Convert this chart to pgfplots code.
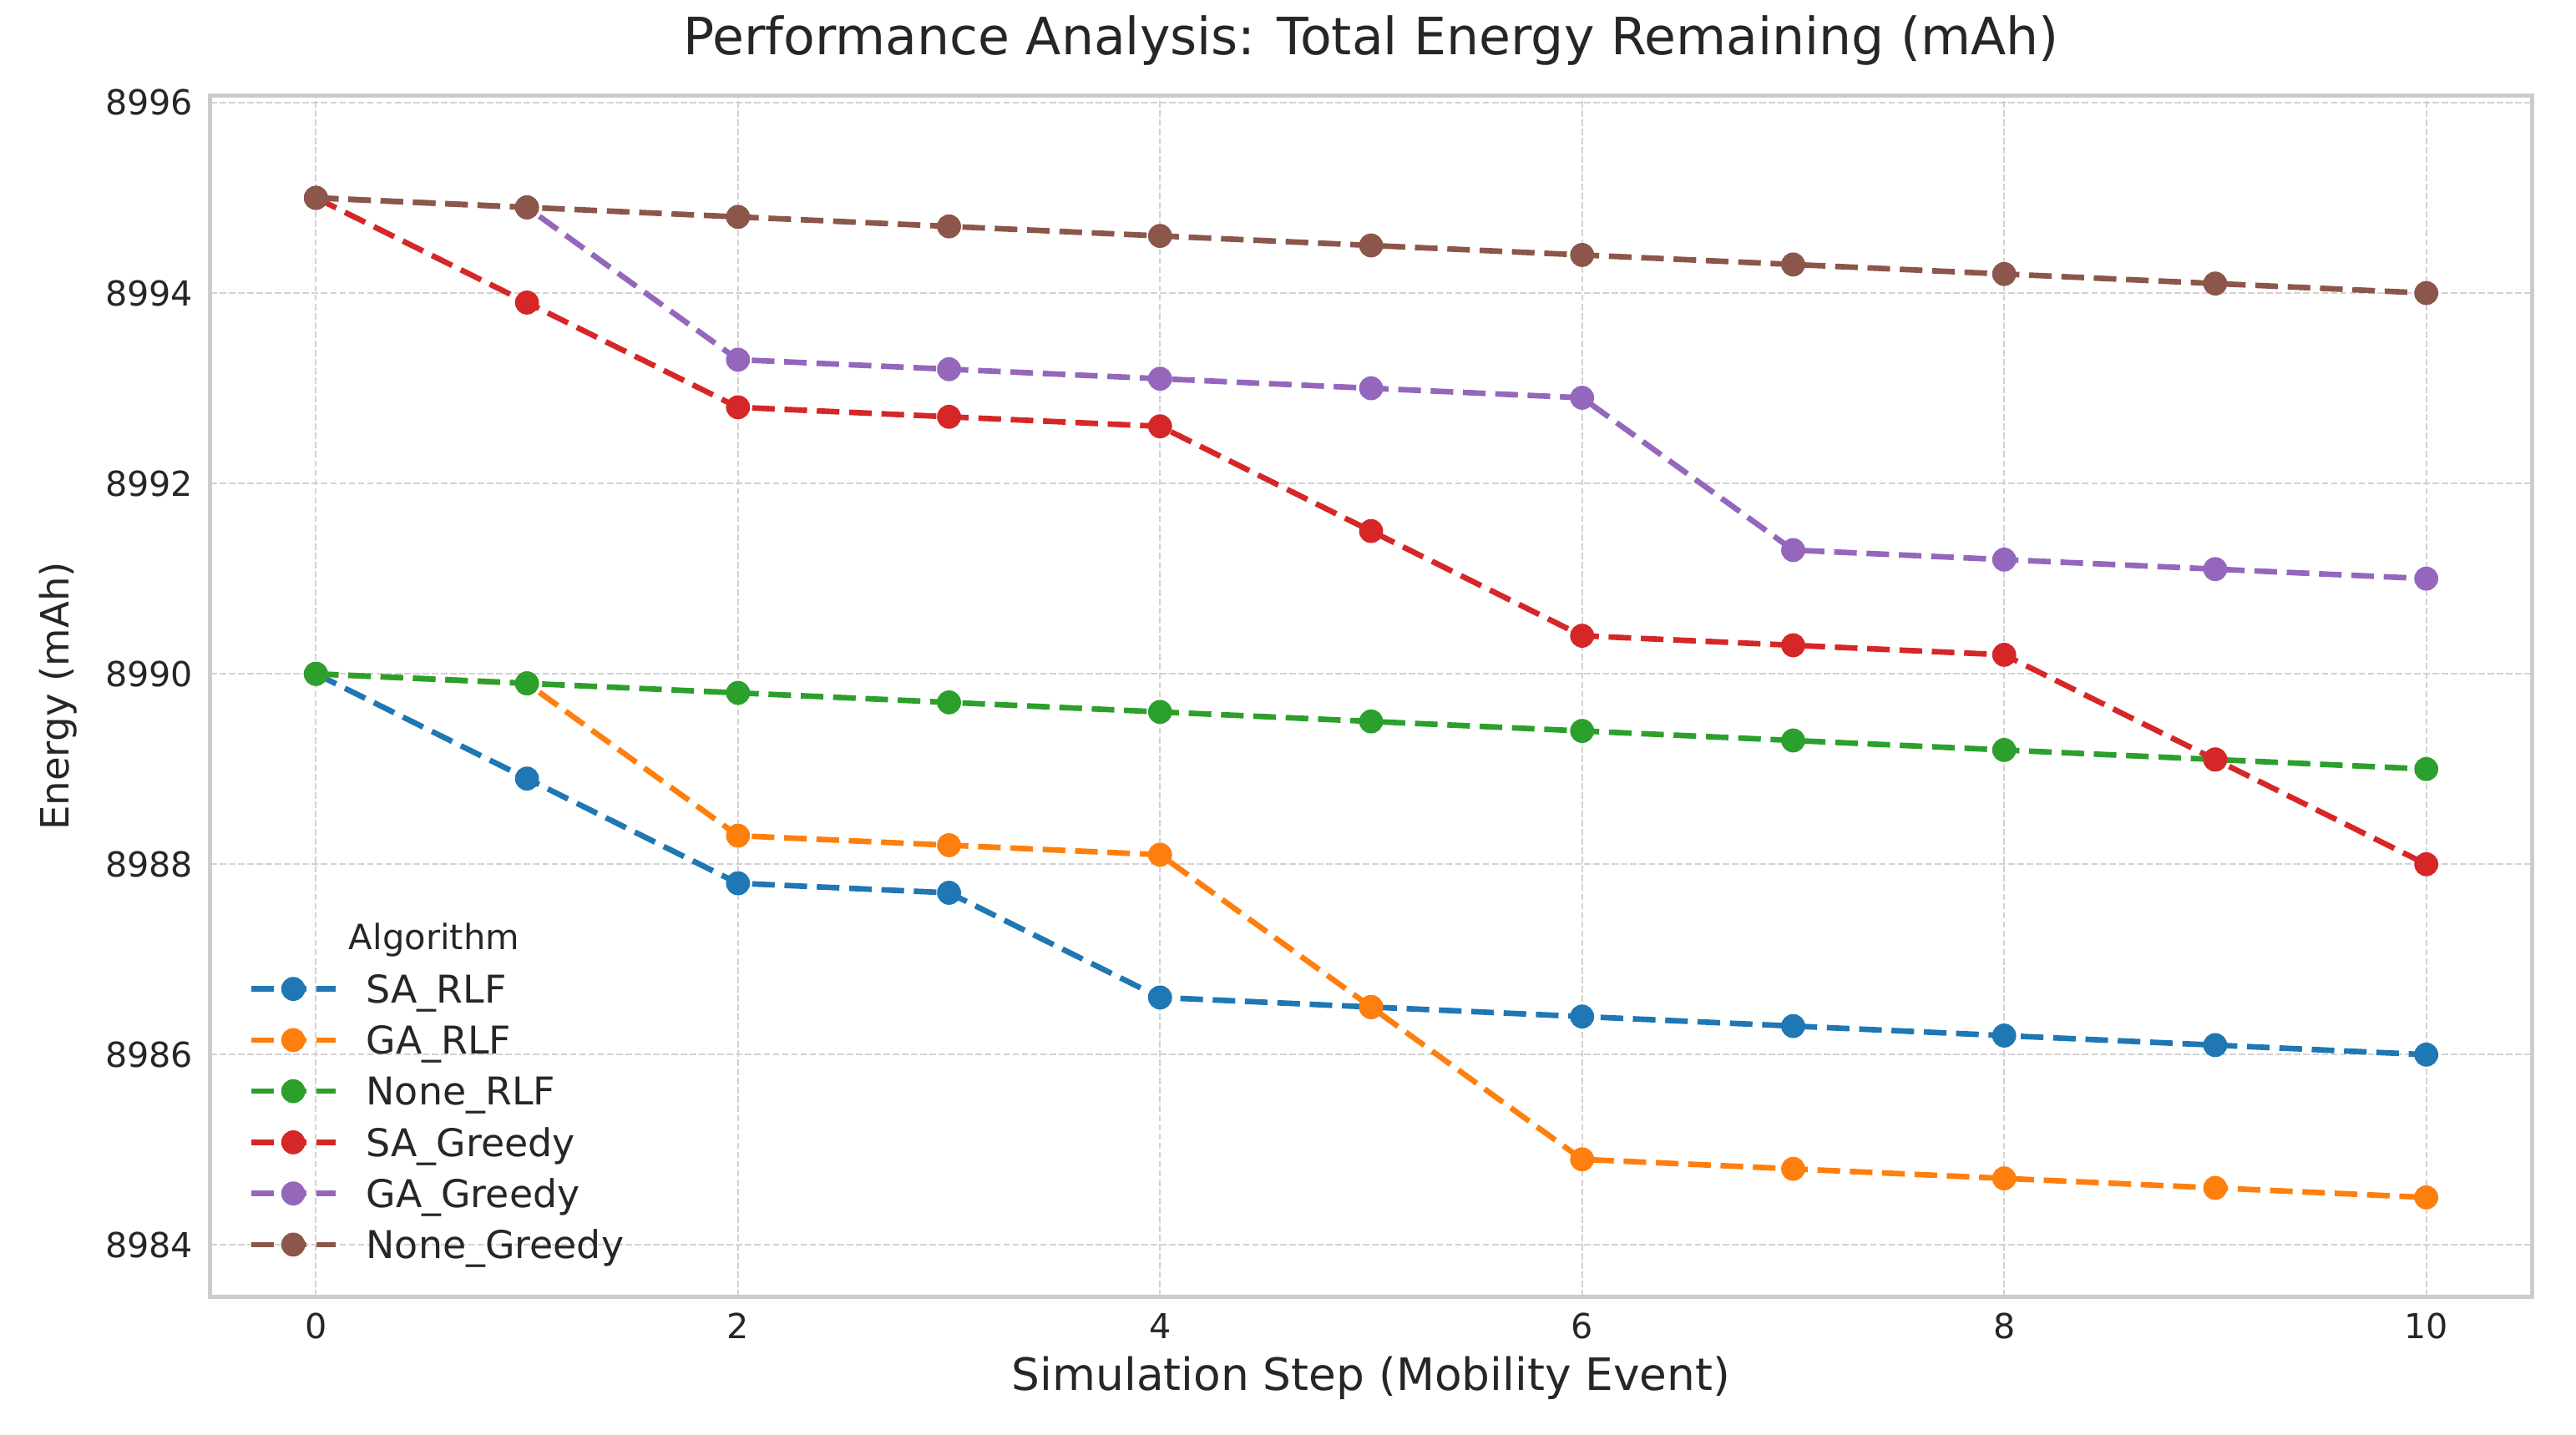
\documentclass[border=0pt]{standalone}
\usepackage{fontspec}
\setmainfont{DejaVu Sans}
\usepackage{pgfplots}
\pgfplotsset{compat=1.18}

\definecolor{c0}{HTML}{1F77B4}
\definecolor{c1}{HTML}{FF7F0E}
\definecolor{c2}{HTML}{2CA02C}
\definecolor{c3}{HTML}{D62728}
\definecolor{c4}{HTML}{9467BD}
\definecolor{c5}{HTML}{8C564B}
\definecolor{framegray}{HTML}{CCCCCC}
\definecolor{gridgray}{HTML}{D2D2D2}
\definecolor{textgray}{HTML}{262626}

\pgfplotsset{
  ser/.style={color=#1, line width=1.6pt, dash pattern=on 6.5pt off 2.8pt,
    mark=*, mark size=3.3pt, mark options={solid, fill=#1, draw=#1, line width=0.3pt}},
}

\begin{document}
\begin{tikzpicture}
\path[use as bounding box] (-60.48pt,-39.6pt) rectangle (679.92pt,372.72pt);
\begin{axis}[
  at={(0,0)}, anchor=south west,
  scale only axis, width=667.2pt, height=345.12pt,
  xmin=-0.5, xmax=10.5, ymin=8983.46, ymax=8996.07,
  xtick={0,2,4,6,8,10},
  ytick={8984,8986,8988,8990,8992,8994,8996},
  yticklabels={8984,8986,8988,8990,8992,8994,8996},
  scaled y ticks=false,
  major tick length=0pt,
  axis line style={draw=framegray, line width=1.2pt},
  grid=major,
  major grid style={draw=gridgray, line width=0.5pt, dash pattern=on 1.85pt off 0.8pt},
  ticklabel style={font=\fontsize{9.9}{11}\selectfont, text=textgray, inner sep=0pt},
  /pgf/number format/assume math mode=true,
  xticklabel style={anchor=north, yshift=-4.6pt},
  yticklabel style={anchor=east, xshift=-4.8pt},
  title={Performance Analysis: Total Energy Remaining (mAh)},
  title style={font=\fontsize{14.8}{17}\selectfont, text=textgray, at={(0.5,1.0167)}, anchor=base},
  xlabel={Simulation Step (Mobility Event)},
  xlabel style={font=\fontsize{12.8}{15}\selectfont, text=textgray, at={(axis description cs:0.5,-0.0779)}, anchor=base},
  ylabel={Energy (mAh)},
  ylabel style={font=\fontsize{11.2}{13}\selectfont, text=textgray, at={(axis description cs:-0.061,0.5)}, anchor=base},
  legend cell align=left,
  legend image code/.code={\draw[mark repeat=2, mark phase=2, #1] plot coordinates {(0pt,0pt) (12pt,0pt) (24.2pt,0pt)};},
  legend style={draw=none, fill=none, at={(0.0165,0.0287)}, anchor=south west,
    inner sep=0pt, outer sep=0pt, row sep=4.7pt,
    font=\fontsize{11}{13}\selectfont, text=textgray,
    nodes={inner sep=0pt, text height=9pt, text depth=1pt},
    /tikz/every odd column/.append style={column sep=8pt}},
]
\addplot[ser=c0] coordinates {(0,8990) (1,8988.9) (2,8987.8) (3,8987.7) (4,8986.6) (5,8986.5) (6,8986.4) (7,8986.3) (8,8986.2) (9,8986.1) (10,8986.0)};
\addplot[ser=c1] coordinates {(0,8990) (1,8989.9) (2,8988.3) (3,8988.2) (4,8988.1) (5,8986.5) (6,8984.9) (7,8984.8) (8,8984.7) (9,8984.6) (10,8984.5)};
\addplot[ser=c2] coordinates {(0,8990) (1,8989.9) (2,8989.8) (3,8989.7) (4,8989.6) (5,8989.5) (6,8989.4) (7,8989.3) (8,8989.2) (9,8989.1) (10,8989.0)};
\addplot[ser=c3] coordinates {(0,8995) (1,8993.9) (2,8992.8) (3,8992.7) (4,8992.6) (5,8991.5) (6,8990.4) (7,8990.3) (8,8990.2) (9,8989.1) (10,8988.0)};
\addplot[ser=c4] coordinates {(0,8995) (1,8994.9) (2,8993.3) (3,8993.2) (4,8993.1) (5,8993.0) (6,8992.9) (7,8991.3) (8,8991.2) (9,8991.1) (10,8991.0)};
\addplot[ser=c5] coordinates {(0,8995) (1,8994.9) (2,8994.8) (3,8994.7) (4,8994.6) (5,8994.5) (6,8994.4) (7,8994.3) (8,8994.2) (9,8994.1) (10,8994.0)};
\legend{SA\_RLF,GA\_RLF,None\_RLF,SA\_Greedy,GA\_Greedy,None\_Greedy}
\node[anchor=base, font=\fontsize{10}{12}\selectfont, text=textgray, inner sep=0pt] at (axis description cs:0.0964,0.2886) {Algorithm};
\end{axis}
\end{tikzpicture}
\end{document}
